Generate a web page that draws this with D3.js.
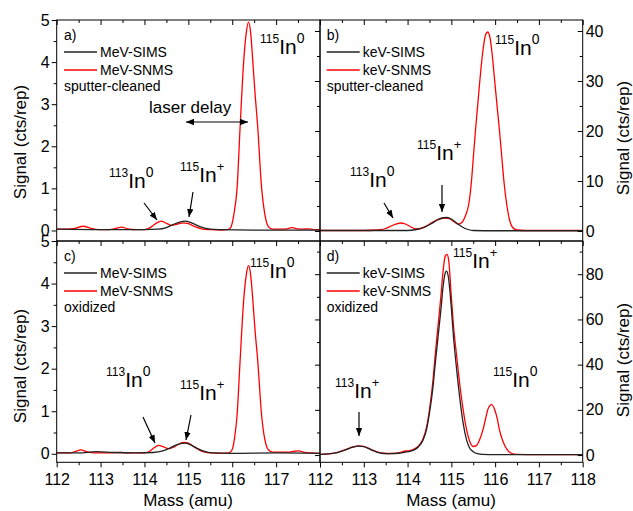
<!DOCTYPE html>
<html><head><meta charset="utf-8">
<script src="https://cdn.jsdelivr.net/npm/d3@7"></script>
<style>
body{margin:0;background:#fff;}
svg text{font-family:Arial,"Liberation Sans",sans-serif;fill:#000;}
</style></head>
<body><svg id="chart" width="633" height="511"></svg>
<script>
// ---------------- DATA ----------------
const massTicks = [112,113,114,115,116,117,118];
const yTicksMeV = [0,1,2,3,4,5];
const yTicksB = [0,10,20,30,40];
const yTicksD = [0,20,40,60,80];

// panel a: MeV, sputter-cleaned  [mass, signal]
const a_SIMS = [[112,0.03],[113,0.02],[114,0.02],[114.3,0.03],[114.5,0.07],[114.65,0.14],[114.8,0.2],[114.92,0.22],[115.05,0.19],[115.2,0.12],[115.35,0.06],[115.5,0.03],[115.7,0.02],[116.5,0.01],[117.5,0.01],[118,0.01]];
const a_SNMS = [[112,0.03],[112.25,0.03],[112.42,0.05],[112.6,0.1],[112.78,0.05],[112.95,0.02],[113.2,0.02],[113.35,0.05],[113.48,0.08],[113.62,0.04],[113.8,0.02],[114,0.02],[114.12,0.06],[114.25,0.16],[114.38,0.22],[114.5,0.17],[114.62,0.12],[114.75,0.15],[114.88,0.18],[115,0.16],[115.15,0.09],[115.3,0.04],[115.5,0.02],[115.75,0.01],[115.9,0.02],[115.97,0.08],[116.04,0.4],[116.11,1.0],[116.18,2.47],[116.26,4.0],[116.32,4.7],[116.37,4.95],[116.42,4.7],[116.47,4.0],[116.52,3.25],[116.58,2.47],[116.67,1.0],[116.74,0.4],[116.82,0.1],[116.92,0.03],[117.1,0.03],[117.25,0.04],[117.36,0.07],[117.48,0.04],[117.62,0.03],[117.73,0.04],[117.85,0.02],[118,0.02]];

// panel b: keV, sputter-cleaned
const b_SIMS = [[112,0.1],[114,0.1],[114.2,0.3],[114.4,0.8],[114.55,1.5],[114.7,2.3],[114.82,2.65],[114.9,2.7],[115,2.4],[115.12,1.6],[115.25,0.8],[115.38,0.3],[115.5,0.1],[116,0.05],[118,0.05]];
const b_SNMS = [[112,0.1],[112.5,0.1],[113,0.1],[113.3,0.2],[113.5,0.5],[113.65,1.1],[113.78,1.5],[113.85,1.6],[113.95,1.4],[114.05,0.95],[114.2,0.4],[114.3,0.5],[114.45,1.1],[114.6,1.9],[114.75,2.45],[114.87,2.6],[114.97,2.4],[115.07,1.8],[115.16,1.35],[115.25,1.8],[115.32,3.0],[115.4,5.5],[115.46,10],[115.5,14.5],[115.55,20],[115.6,25],[115.65,30],[115.72,36],[115.78,39.2],[115.83,39.8],[115.88,38.8],[115.93,35.5],[115.99,30],[116.05,24.5],[116.1,20],[116.15,15],[116.2,10],[116.27,5],[116.33,2.2],[116.4,0.7],[116.5,0.2],[116.7,0.1],[118,0.1]];

// panel c: MeV, oxidized
const c_SIMS = [[112,0.02],[112.5,0.02],[112.9,0.05],[113.3,0.03],[113.8,0.02],[114.2,0.03],[114.4,0.06],[114.55,0.12],[114.7,0.2],[114.82,0.24],[114.92,0.25],[115.05,0.21],[115.2,0.13],[115.35,0.06],[115.55,0.02],[116,0.01],[117,0.02],[118,0.01]];
const c_SNMS = [[112,0.02],[112.3,0.02],[112.45,0.06],[112.55,0.09],[112.68,0.05],[112.85,0.02],[113.2,0.02],[113.45,0.03],[113.6,0.02],[114,0.02],[114.12,0.06],[114.22,0.14],[114.32,0.2],[114.42,0.17],[114.55,0.12],[114.68,0.16],[114.8,0.24],[114.9,0.27],[115,0.25],[115.15,0.15],[115.3,0.06],[115.5,0.02],[115.8,0.01],[115.93,0.02],[116,0.1],[116.05,0.35],[116.11,0.9],[116.18,2.2],[116.26,3.6],[116.32,4.2],[116.37,4.42],[116.42,4.2],[116.47,3.6],[116.52,2.9],[116.58,2.2],[116.67,0.9],[116.74,0.35],[116.82,0.1],[116.92,0.04],[117.1,0.04],[117.3,0.04],[117.42,0.06],[117.52,0.07],[117.62,0.04],[117.8,0.02],[118,0.01]];

// panel d: keV, oxidized
const d_SIMS = [[112,0.3],[112.4,1.1],[112.6,2.4],[112.75,3.5],[112.88,4.0],[113,3.7],[113.15,2.5],[113.3,1.3],[113.45,0.7],[113.6,0.6],[113.8,0.8],[113.95,1.3],[114.05,1.6],[114.15,2.3],[114.25,3.7],[114.35,6.5],[114.43,11],[114.5,18.5],[114.58,30],[114.63,40],[114.7,53],[114.76,64],[114.82,76],[114.86,80.5],[114.89,81.4],[114.93,79],[115,65],[115.05,52],[115.12,38],[115.2,24],[115.27,14],[115.35,6.5],[115.42,3.0],[115.5,1.5],[115.6,0.6],[115.72,0.3],[116,0.2],[118,0.2]];
const d_SNMS = [[112,0.3],[112.2,0.5],[112.4,1.2],[112.6,2.5],[112.75,3.6],[112.88,4.1],[113,3.8],[113.15,2.6],[113.3,1.4],[113.45,0.8],[113.6,0.7],[113.8,1.0],[113.95,1.8],[114.05,2.0],[114.15,2.6],[114.25,4.0],[114.35,7],[114.43,12],[114.5,20],[114.58,33],[114.63,44],[114.7,58],[114.76,70],[114.82,83],[114.86,88],[114.9,88.8],[114.94,86],[115,70],[115.05,57],[115.12,44],[115.2,30],[115.27,20],[115.35,11],[115.42,6],[115.5,3.8],[115.57,4.2],[115.65,7],[115.72,11],[115.77,15],[115.84,20.5],[115.92,22.3],[116,19.5],[116.05,16],[116.1,11],[116.18,6],[116.27,2.5],[116.37,0.8],[116.49,0.3],[117,0.2],[118,0.2]];

// ---------------- LAYOUT ----------------
const svg = d3.select("#chart");
const XL = [56.7, 320], XR = [320, 582.7];
const YT = [20, 241], YB = [241, 462.3];
const RED = "#ff0000", BLK = "#222222";
const fmt = d3.format("d");

const panels = [
  {id:"a", xr:XL, yr:YT, ydom:[-0.25,5], major:yTicksMeV, minor:d3.range(0.5,5,1), sims:a_SIMS, snms:a_SNMS, leg:["MeV-SIMS","MeV-SNMS"], note:"sputter-cleaned", side:"left", top:true},
  {id:"b", xr:XR, yr:YT, ydom:[-2,42.2], major:yTicksB, minor:d3.range(5,45,10), sims:b_SIMS, snms:b_SNMS, leg:["keV-SIMS","keV-SNMS"], note:"sputter-cleaned", side:"right", top:true},
  {id:"c", xr:XL, yr:YB, ydom:[-0.2,5], major:yTicksMeV, minor:d3.range(0.5,5,1), sims:c_SIMS, snms:c_SNMS, leg:["MeV-SIMS","MeV-SNMS"], note:"oxidized", side:"left", top:false},
  {id:"d", xr:XR, yr:YB, ydom:[-3.2,94.7], major:yTicksD, minor:d3.range(10,95,20), sims:d_SIMS, snms:d_SNMS, leg:["keV-SIMS","keV-SNMS"], note:"oxidized", side:"right", top:false}
];

const defs = svg.append("defs");
defs.append("marker").attr("id","ah").attr("viewBox","0 0 10 10").attr("refX",10).attr("refY",5)
  .attr("markerWidth",8).attr("markerHeight",8).attr("markerUnits","userSpaceOnUse").attr("orient","auto-start-reverse")
  .append("path").attr("d","M0,1 L10,5 L0,9 Z").attr("fill","#000");

panels.forEach(p => {
  const x = d3.scaleLinear().domain([112,118]).range(p.xr);
  const y = d3.scaleLinear().domain(p.ydom).range([p.yr[1], p.yr[0]]);
  const g = svg.append("g");
  defs.append("clipPath").attr("id","clip"+p.id).append("rect")
    .attr("x",p.xr[0]).attr("y",p.yr[0]).attr("width",p.xr[1]-p.xr[0]).attr("height",p.yr[1]-p.yr[0]);

  const line = d3.line().x(d=>x(d[0])).y(d=>y(d[1])).curve(d3.curveMonotoneX);
  const cg = g.append("g").attr("clip-path","url(#clip"+p.id+")");
  cg.append("path").attr("d",line(p.snms)).attr("fill","none").attr("stroke",RED).attr("stroke-width",1.3);
  cg.append("path").attr("d",line(p.sims)).attr("fill","none").attr("stroke",BLK).attr("stroke-width",1.3);

  const yAxisG = (maj) => {
    if (p.side==="left") {
      const ax = d3.axisLeft(y).tickValues(maj?p.major:p.minor).tickSizeInner(maj?5:3).tickSizeOuter(0).tickPadding(2);
      ax.tickFormat(maj ? fmt : "");
      return g.append("g").attr("transform",`translate(${p.xr[0]},0)`).call(ax);
    } else {
      const ax = d3.axisRight(y).tickValues(maj?p.major:p.minor).tickSizeInner(maj?-5:-3).tickSizeOuter(0).tickPadding(3);
      ax.tickFormat(maj ? fmt : "");
      return g.append("g").attr("transform",`translate(${p.xr[1]},0)`).call(ax);
    }
  };
  [true,false].forEach(m => {
    const ag = yAxisG(m);
    ag.select(".domain").remove();
    ag.selectAll("text").style("font-size","16px");
    ag.selectAll("line").attr("stroke","#000");
  });
  if (p.side==="right") {
    [[p.major,5],[p.minor,3]].forEach(([tv,s]) => {
      const ag = g.append("g").attr("transform",`translate(${p.xr[0]},0)`)
        .call(d3.axisLeft(y).tickValues(tv).tickSizeInner(s).tickSizeOuter(0).tickFormat(""));
      ag.select(".domain").remove();
    });
  }
  if (p.top) {
    [[massTicks,-5],[d3.range(112.5,118,1),-3]].forEach(([tv,s]) => {
      const ag = g.append("g").attr("transform",`translate(0,${p.yr[0]})`)
        .call(d3.axisTop(x).tickValues(tv).tickSizeInner(s).tickSizeOuter(0).tickFormat(""));
      ag.select(".domain").remove();
    });
  }
  const labs = (p.id==="c") ? massTicks.slice(0,6) : massTicks;
  [[massTicks,5,true],[d3.range(112.5,118,1),3,false]].forEach(([tv,s,lab]) => {
    const ax = d3.axisBottom(x).tickValues(tv).tickSizeInner(s).tickSizeOuter(0).tickPadding(6);
    if (!lab || p.top) ax.tickFormat("");
    else ax.tickFormat(v => labs.includes(v) ? fmt(v) : "");
    const ag = g.append("g").attr("transform",`translate(0,${p.yr[1]})`).call(ax);
    ag.select(".domain").remove();
    ag.selectAll("text").style("font-size","16px");
  });

  g.append("rect").attr("x",p.xr[0]).attr("y",p.yr[0]).attr("width",p.xr[1]-p.xr[0]).attr("height",p.yr[1]-p.yr[0])
    .attr("fill","none").attr("stroke","#000").attr("stroke-width",1);

  const lx = p.xr[0] + (p.side==="left" ? 7.3 : 6.7);
  const ly0 = p.yr[0];
  g.append("text").attr("x",lx).attr("y",ly0+20).style("font-size","14px").text(p.id+")");
  [[p.leg[0],BLK,32],[p.leg[1],RED,50]].forEach(([t,c,dy]) => {
    g.append("line").attr("x1",lx).attr("x2",lx+33).attr("y1",ly0+dy).attr("y2",ly0+dy).attr("stroke",c).attr("stroke-width",1.3);
    g.append("text").attr("x",lx+36).attr("y",ly0+dy+5).style("font-size","14px").text(t);
  });
  g.append("text").attr("x",lx).attr("y",ly0+71).style("font-size","14px").text(p.note);
});

svg.append("text").attr("transform","translate(188,506)").attr("text-anchor","middle").style("font-size","17px").text("Mass (amu)");
svg.append("text").attr("transform","translate(451,506)").attr("text-anchor","middle").style("font-size","17px").text("Mass (amu)");
[[26,142],[26,366],[629,138],[629,360]].forEach(([tx,ty]) => {
  svg.append("text").attr("transform",`translate(${tx},${ty}) rotate(-90)`).attr("text-anchor","middle").style("font-size","17px").text("Signal (cts/rep)");
});

const peakLabels = [
  ["115","0",260,54],["113","0",109,188],["115","+",180,182],
  ["115","0",495,55],["115","+",417,160],["113","0",350,187],
  ["115","0",250,278],["113","0",106,387],["115","+",180,400],
  ["115","+",453,268],["115","0",493,387],["113","+",335,398]
];
peakLabels.forEach(([pre,post,lx,ly]) => {
  const t = svg.append("text").attr("x",lx).attr("y",ly);
  t.append("tspan").attr("dy",-11).style("font-size","12px").text(pre);
  t.append("tspan").attr("dy",11).style("font-size","21px").text("In");
  t.append("tspan").attr("dy",-11).style("font-size", post==="+"?"13px":"14px").text(post);
});

const arrows = [[144,203,157,220],[193,192,189,217],[384,203,393,218],[442,185,442,212],
  [143,417,155,443],[191,415,186,440],[359,412,359,436]];
arrows.forEach(a => {
  svg.append("line").attr("x1",a[0]).attr("y1",a[1]).attr("x2",a[2]).attr("y2",a[3])
    .attr("stroke","#000").attr("stroke-width",1.2).attr("marker-end","url(#ah)");
});
svg.append("line").attr("x1",186).attr("y1",122).attr("x2",248).attr("y2",122)
  .attr("stroke","#000").attr("stroke-width",1.2).attr("marker-end","url(#ah)").attr("marker-start","url(#ah)");
svg.append("text").attr("x",149).attr("y",113).style("font-size","17px").text("laser delay");
</script></body></html>
